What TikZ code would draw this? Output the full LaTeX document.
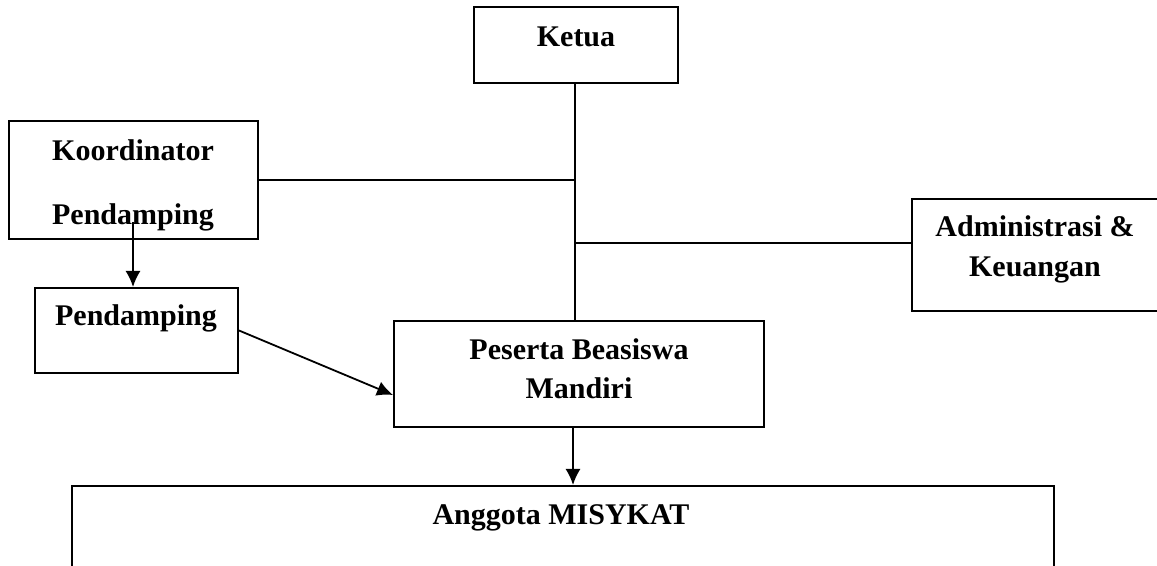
\documentclass[tikz,border=0pt]{standalone}
\usepackage{fontspec}
\setmainfont{Liberation Serif}
\usetikzlibrary{arrows.meta}
\tikzset{
  orgbox/.style={draw, line width=1pt, inner sep=0pt},
  orgtext/.style={font=\fontsize{15}{19}\selectfont\bfseries, inner sep=0pt, anchor=base},
  orgline/.style={line width=0.9pt},
  orgarrow/.style={line width=0.9pt, -{Latex[length=8pt,width=7.5pt]}}
}

\begin{document}
\begin{tikzpicture}[x=0.5pt, y=-0.5pt]
  \useasboundingbox (0,0) rectangle (1157,566);
  \clip (0,0) rectangle (1157,566);
  % boxes
  \node[orgbox, minimum width=102pt, minimum height=38pt] (ketua) at (576,45) {};
  \node[orgbox, minimum width=124.5pt, minimum height=59pt] (koord) at (133.5,180) {};
  \node[orgbox, minimum width=124pt, minimum height=56pt] (admin) at (1036,255) {};
  \node[orgbox, minimum width=101.5pt, minimum height=42.5pt] (pend) at (136.5,330.5) {};
  \node[orgbox, minimum width=185pt, minimum height=53pt] (peserta) at (579,374) {};
  \node[orgbox, minimum width=491pt, minimum height=60pt] (anggota) at (563,546) {};
  % texts
  \node[orgtext] (ketuat) at (576,47) {Ketua};
  \node[orgtext] (koordt) at (133,161) {Koordinator};
  \node[orgtext] (koordtb) at (133,225) {Pendamping};
  \node[orgtext] (admint) at (1035,237) {Administrasi \&};
  \node[orgtext] (admintb) at (1035,277) {Keuangan};
  \node[orgtext] (pendt) at (136,326) {Pendamping};
  \node[orgtext] (pesertat) at (579,360) {Peserta Beasiswa};
  \node[orgtext] (pesertatb) at (579,399) {Mandiri};
  \node[orgtext] (anggotat) at (561,524) {Anggota MISYKAT};
  % connectors
  \coordinate (adminjoin) at (575,243);
  \coordinate (koordarrow) at (133,222);
  \draw[orgline] ([xshift=-0.5pt]ketua.south) -- ([xshift=-0.5pt]ketua.south |- peserta.north);
  \draw[orgline] (koord.east) -- ([xshift=-0.5pt]ketua.south |- koord.east);
  \draw[orgline] (adminjoin) -- (adminjoin -| admin.west);
  \draw[orgarrow] (koordarrow) -- (koordarrow |- pend.north);
  \draw[orgarrow] (pend.east) -- ([yshift=-10.5pt]peserta.west);
  \draw[orgarrow] ([xshift=-3pt]peserta.south) -- ([xshift=-3pt]peserta.south |- anggota.north);
\end{tikzpicture}
\end{document}
